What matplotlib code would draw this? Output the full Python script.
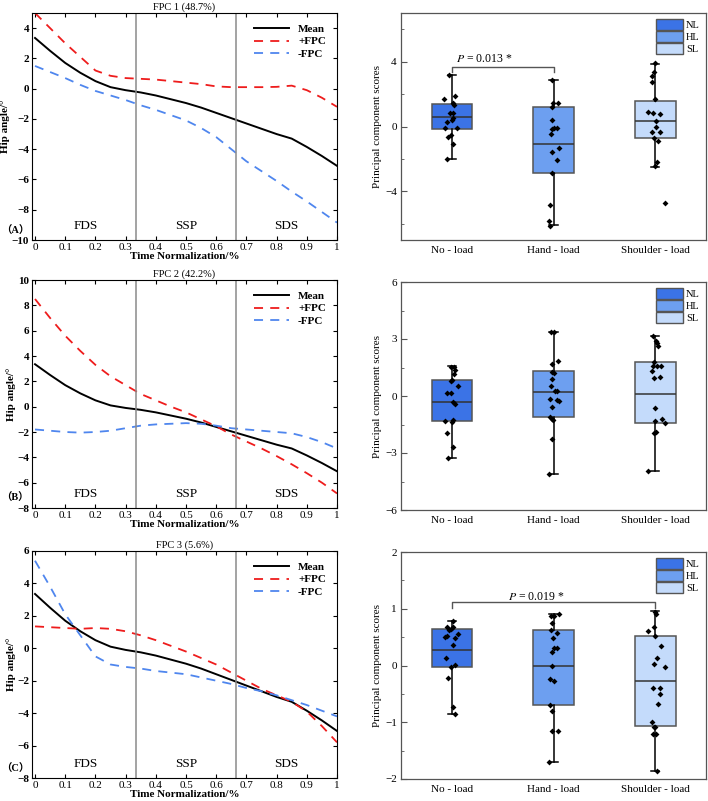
import matplotlib
matplotlib.use("Agg")
import matplotlib.pyplot as plt
from matplotlib.patches import Patch
from matplotlib.ticker import MultipleLocator, FuncFormatter

plt.rcParams["font.family"] = ["Liberation Serif", "Noto Sans CJK SC"]
plt.rcParams["mathtext.fontset"] = "stix"

# ---------------------------------------------------------------- curve data
t = [0.0, 0.05, 0.1, 0.15, 0.2, 0.25, 0.3, 0.35, 0.4, 0.45, 0.5,
     0.55, 0.6, 0.65, 0.7, 0.75, 0.8, 0.85, 0.9, 0.95, 1.0]

mean_curve = [3.35, 2.5, 1.7, 1.05, 0.5, 0.1, -0.1, -0.25, -0.45, -0.7, -0.95,
              -1.25, -1.6, -1.95, -2.3, -2.65, -3.0, -3.3, -3.85, -4.45, -5.1]

fpc1_plus = [5.0, 4.0, 3.0, 2.1, 1.2, 0.85, 0.7, 0.65, 0.6, 0.5, 0.4,
             0.3, 0.15, 0.1, 0.1, 0.1, 0.12, 0.2, -0.1, -0.6, -1.2]
fpc1_minus = [1.5, 1.1, 0.7, 0.25, -0.15, -0.45, -0.75, -1.1, -1.4, -1.75, -2.1,
              -2.6, -3.2, -4.0, -4.8, -5.45, -6.1, -6.8, -7.45, -8.15, -8.85]

fpc2_plus = [8.5, 7.0, 5.6, 4.4, 3.3, 2.4, 1.7, 1.0, 0.5, 0.0, -0.45,
             -1.0, -1.55, -2.2, -2.75, -3.3, -3.9, -4.55, -5.25, -6.0, -6.85]
fpc2_minus = [-1.8, -1.9, -2.0, -2.05, -2.0, -1.9, -1.7, -1.5, -1.4, -1.35, -1.3,
              -1.35, -1.5, -1.7, -1.8, -1.9, -2.0, -2.1, -2.4, -2.8, -3.3]

fpc3_plus = [1.35, 1.3, 1.25, 1.2, 1.25, 1.2, 1.05, 0.8, 0.5, 0.15, -0.2,
             -0.6, -1.0, -1.5, -2.0, -2.5, -2.9, -3.3, -3.9, -4.8, -5.8]
fpc3_minus = [5.4, 3.8, 2.1, 0.8, -0.5, -1.0, -1.15, -1.25, -1.4, -1.5, -1.6,
              -1.8, -2.0, -2.2, -2.45, -2.65, -2.9, -3.2, -3.5, -3.85, -4.2]

fpc_titles = ["FPC 1 (48.7%)", "FPC 2 (42.2%)", "FPC 3 (5.6%)"]
panel_tags = ["（A）", "（B）", "（C）"]
phase_names = ["FDS", "SSP", "SDS"]
phase_bounds = [1 / 3, 2 / 3]

# ---------------------------------------------------------------- score data
groups = ["No - load", "Hand - load", "Shoulder - load"]
group_codes = ["NL", "HL", "SL"]

# box statistics: whislo, q1, med, q3, whishi
box1 = [[-2.0, -0.15, 0.6, 1.4, 3.15],
        [-6.1, -2.85, -1.05, 1.2, 2.85],
        [-2.5, -0.7, 0.35, 1.6, 3.85]]
box2 = [[-3.25, -1.32, -0.3, 0.84, 1.58],
        [-4.08, -1.11, 0.19, 1.34, 3.39],
        [-3.95, -1.41, 0.09, 1.79, 3.18]]
box3 = [[-0.86, -0.02, 0.28, 0.64, 0.78],
        [-1.7, -0.69, 0.0, 0.63, 0.9],
        [-1.86, -1.07, -0.28, 0.52, 0.96]]

# scatter points: per group (x offset from group centre, score)
pts1 = [
    [(-0.03, 3.18), (-0.075, 1.68), (0.03, 1.89), (0.007, 1.48), (0.023, 1.31),
     (-0.02, 0.86), (0.016, 0.82), (0.007, 0.51), (0.0, 0.41), (-0.043, 0.25),
     (-0.066, -0.1), (0.05, -0.1), (-0.01, -0.51), (-0.033, -0.66), (0.007, -1.07),
     (-0.05, -2.01)],
    [(-0.016, 2.87), (-0.003, 1.48), (0.046, 1.48), (-0.01, 1.23), (-0.016, 0.41),
     (0.007, -0.1), (0.033, -0.1), (-0.01, -0.16), (-0.026, -0.45), (0.056, -1.33),
     (-0.01, -1.6), (0.033, -2.05), (-0.016, -2.87), (-0.036, -4.82), (-0.043, -5.81),
     (-0.036, -6.11)],
    [(0.0, 3.9), (-0.01, 3.38), (-0.033, 3.12), (-0.033, 2.77), (0.0, 1.68),
     (-0.075, 0.92), (-0.023, 0.82), (0.05, 0.78), (0.01, 0.37), (0.01, -0.04),
     (-0.033, -0.37), (0.05, -0.37), (-0.016, -0.68), (0.023, -0.88), (0.016, -2.21),
     (0.0, -2.46), (0.098, -4.72)],
]
pts2 = [
    [(-0.01, 1.55), (0.023, 1.55), (0.033, 1.37), (0.023, 1.14), (-0.01, 0.79),
     (0.0, 0.84), (0.056, 0.54), (-0.043, 0.14), (-0.01, 0.18), (0.01, -0.3),
     (0.03, -0.44), (-0.07, -1.3), (0.016, -1.27), (-0.003, -1.35), (-0.043, -1.97),
     (0.007, -2.67), (-0.033, -3.25)],
    [(-0.026, 3.39), (0.007, 3.39), (0.046, 1.86), (-0.01, 1.7), (-0.01, 1.28),
     (0.007, 1.2), (-0.016, 0.9), (-0.02, 0.53), (0.016, 0.26), (0.033, 0.26),
     (-0.036, -0.16), (0.039, -0.21), (0.056, -0.26), (-0.01, -0.6), (-0.033, -1.09),
     (-0.01, -1.21), (-0.003, -1.27), (-0.01, -2.27), (-0.049, -4.08)],
    [(-0.026, 3.18), (0.01, 2.9), (0.016, 2.78), (0.023, 2.65), (-0.016, 1.81),
     (-0.023, 1.58), (0.016, 1.58), (0.056, 1.58), (-0.033, 1.32), (0.049, 1.02),
     (-0.016, 0.93), (0.0, -0.65), (0.0, -1.32), (0.066, -1.21), (0.098, -1.44),
     (0.01, -1.88), (-0.01, -1.97), (-0.075, -3.95)],
]
pts3 = [
    [(0.007, 0.78), (-0.043, 0.68), (-0.01, 0.65), (-0.026, 0.62), (0.016, 0.67),
     (0.056, 0.55), (-0.07, 0.5), (-0.043, 0.52), (0.033, 0.49), (0.01, 0.37),
     (-0.059, 0.13), (-0.01, -0.02), (0.03, 0.01), (-0.033, -0.22), (0.016, -0.73),
     (0.03, -0.86)],
    [(-0.02, 0.88), (0.0, 0.88), (0.056, 0.91), (-0.01, 0.75), (-0.02, 0.63),
     (0.039, 0.58), (-0.003, 0.49), (0.0, 0.31), (0.03, 0.31), (-0.01, 0.24),
     (-0.013, -0.01), (-0.033, -0.23), (0.007, -0.27), (-0.036, -0.69), (-0.016, -0.8),
     (-0.01, -1.16), (0.046, -1.16), (-0.049, -1.7)],
    [(0.0, 0.95), (0.007, 0.91), (-0.016, 0.67), (-0.075, 0.6), (0.0, 0.52),
     (0.059, 0.35), (0.016, 0.13), (-0.01, 0.02), (0.098, -0.03), (-0.023, -0.4),
     (0.049, -0.4), (0.043, -0.51), (0.023, -0.68), (-0.033, -1.0), (-0.01, -1.08),
     (0.0, -1.09), (-0.026, -1.21), (0.01, -1.21), (0.016, -1.86)],
]

box_colors = ["#3b73e6", "#6d9ff0", "#c4dbfb"]
edge_gray = "#555555"

curve_sets = [(fpc1_plus, fpc1_minus), (fpc2_plus, fpc2_minus), (fpc3_plus, fpc3_minus)]
curve_ylims = [(-10, 5), (-8, 10), (-8, 6)]
box_sets = [box1, box2, box3]
pt_sets = [pts1, pts2, pts3]
score_ylims = [(-7, 7), (-6, 6), (-2, 2)]
score_major = [4, 3, 1]
score_minor = [2, 1.5, 0.5]
# significance: (group i, group j, bracket y, tick depth, text x, text y, label)
sig = [(0, 1, 3.69, 0.31, 1.04, 3.82, r"$P$ = 0.013 *"),
       None,
       (0, 2, 1.12, 0.1, 1.55, 1.1, r"$P$ = 0.019 *")]

W, H = 708, 801
fig = plt.figure(figsize=(W / 100, H / 100), dpi=100)

left_rows = [(13, 240), (280, 508), (551, 778)]
right_rows = [(13, 240), (282, 510), (552, 779)]


def rect(x0, x1, y0, y1):
    return [x0 / W, 1 - y1 / H, (x1 - x0) / W, (y1 - y0) / H]


def fmt_x(v, _):
    if abs(v) < 1e-9:
        return "0"
    if abs(v - 1) < 1e-9:
        return "1"
    return f"{v:.1f}"


for k in range(3):
    # ------------------------------------------------ curve panel
    ax = fig.add_axes(rect(32, 337, *left_rows[k]))
    plus, minus = curve_sets[k]
    ax.plot(t, mean_curve, color="black", lw=1.4, label="Mean")
    ax.plot(t, plus, color="#ee1c1c", lw=1.3, ls=(0, (5, 4)), label="+FPC")
    ax.plot(t, minus, color="#4f86ee", lw=1.3, ls=(0, (5, 4)), label="-FPC")
    for b in phase_bounds:
        ax.axvline(b, color="#8a8a8a", lw=1.1)
    ax.set_xlim(-0.01, 1.0)
    ax.set_ylim(*curve_ylims[k])
    ax.xaxis.set_major_locator(MultipleLocator(0.1))
    ax.xaxis.set_major_formatter(FuncFormatter(fmt_x))
    ax.yaxis.set_major_locator(MultipleLocator(2))
    ax.tick_params(direction="in", top=True, right=True, length=3, labelsize=8, pad=2)
    for lab in ax.get_yticklabels():
        lab.set_fontweight("bold")
    for s in ax.spines.values():
        s.set_linewidth(0.8)
    ax.set_title(fpc_titles[k], fontsize=7.5, pad=2)
    ax.set_ylabel("Hip angle/°", fontsize=8, fontweight="bold", labelpad=1)
    ax.set_xlabel("Time Normalization/%", fontsize=8, fontweight="bold", labelpad=0)
    y0, y1 = curve_ylims[k]
    for name, xc in zip(phase_names, [1 / 6, 0.5, 5 / 6]):
        ax.text(xc, y0 + 0.035 * (y1 - y0), name, ha="center", va="bottom", fontsize=9.5)
    ax.text(-0.02, y0 + 0.02 * (y1 - y0), panel_tags[k], ha="right", va="bottom",
            fontsize=7.5, fontweight="bold", clip_on=False)
    ax.legend(loc="upper right", frameon=False, handlelength=3.2,
              labelspacing=0.25, borderaxespad=0.6, prop={"weight": "bold", "size": 8})

    # ------------------------------------------------ score panel
    bx = fig.add_axes(rect(401, 706, *right_rows[k]))
    stats = []
    for g, (lo, q1, med, q3, hi) in enumerate(box_sets[k]):
        stats.append({"whislo": lo, "q1": q1, "med": med, "q3": q3, "whishi": hi,
                      "fliers": [], "label": groups[g]})
    bp = bx.bxp(stats, positions=[1, 2, 3], widths=0.4, patch_artist=True,
                showfliers=False,
                boxprops={"edgecolor": edge_gray, "linewidth": 1.1},
                medianprops={"color": "#333333", "linewidth": 1.1},
                whiskerprops={"color": "black", "linewidth": 1.1},
                capprops={"color": "black", "linewidth": 1.1}, capwidths=0.08)
    for patch, c in zip(bp["boxes"], box_colors):
        patch.set_facecolor(c)
    for g, pts in enumerate(pt_sets[k]):
        xs = [g + 1 + dx for dx, _ in pts]
        ys = [v for _, v in pts]
        bx.scatter(xs, ys, marker="D", s=9, color="black", zorder=5, linewidths=0)
    bx.set_xlim(0.5, 3.5)
    bx.set_ylim(*score_ylims[k])
    bx.yaxis.set_major_locator(MultipleLocator(score_major[k]))
    bx.yaxis.set_minor_locator(MultipleLocator(score_minor[k]))
    bx.yaxis.set_major_formatter(FuncFormatter(lambda v, _: f"{v:g}".replace("-", "−")))
    bx.tick_params(axis="y", which="major", direction="in", length=4, labelsize=8,
                   color=edge_gray, pad=3)
    bx.tick_params(axis="y", which="minor", direction="in", length=2, color=edge_gray)
    bx.tick_params(axis="x", length=0, labelsize=8, pad=4)
    for s in bx.spines.values():
        s.set_color(edge_gray)
        s.set_linewidth(0.9)
    bx.set_ylabel("Principal component scores", fontsize=8, labelpad=2)
    handles = [Patch(facecolor=c, edgecolor=edge_gray, linewidth=1.0, label=n)
               for c, n in zip(box_colors, group_codes)]
    bx.legend(handles=handles, loc="upper right", frameon=False, fontsize=7.5,
              handlelength=2.6, handleheight=1.2, handletextpad=0.3,
              labelspacing=0.12, borderaxespad=0.2)
    s_info = sig[k]
    if s_info is not None:
        gi, gj, yb, dep, tx, ty, lab = s_info
        bx.plot([gi + 1, gi + 1, gj + 1, gj + 1], [yb - dep, yb, yb, yb - dep],
                color=edge_gray, lw=1.0)
        bx.text(tx, ty, lab, ha="left", va="bottom", fontsize=8.5)

fig.savefig("out.png", dpi=100)
